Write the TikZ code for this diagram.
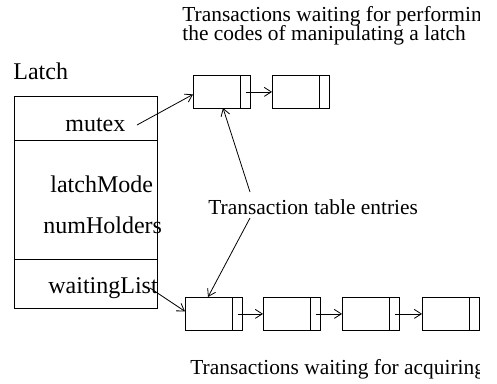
\documentclass[tikz,border=0pt]{standalone}
\usepackage{fontspec}
\setmainfont{Liberation Serif}
\usetikzlibrary{arrows.meta}
\begin{document}
\begin{tikzpicture}[x=1pt,y=-1pt,
  line width=0.8pt,
  lbl/.style={anchor=base west, inner sep=0pt, font=\fontsize{24}{26}\selectfont},
  captxt/.style={anchor=base west, inner sep=0pt, font=\fontsize{21.4}{24}\selectfont},
  field/.style={draw, anchor=north west, inner sep=0pt, minimum width=143pt},
  entry/.style={draw, anchor=north west, inner sep=0pt, minimum width=57pt, minimum height=33pt,
    path picture={\draw ([xshift=-10pt]path picture bounding box.north east) -- ([xshift=-10pt]path picture bounding box.south east);}},
  ptr/.style={-{Straight Barb[length=7pt,width=9pt]}}]
\useasboundingbox (0,0) rectangle (497,383);
% texts cut at the right edge of the original figure
\begin{scope}
\clip (0,0) rectangle (479,383);
\node[captxt] (top1) at (182,21) {Transactions waiting for performing};
\node[captxt] (top2) at (182,40) {the codes of manipulating a latch};
\node[captxt] (bottxt) at (190,374) {Transactions waiting for acquiring a latch};
\end{scope}
\node[lbl] (latch) at (13,79) {Latch};
% latch structure
\node[field, minimum height=44pt] (fmutex) at (14,96) {};
\node[field, minimum height=119pt] (fmid) at (14,140) {};
\node[field, minimum height=49pt] (fwait) at (14,259) {};
\node[lbl] (mutex) at (65,131) {mutex};
\node[lbl] (latchmode) at (50,192) {latchMode};
\node[lbl] (numholders) at (43,233) {numHolders};
\node[lbl] (waiting) at (48,293) {waitingList};
% top list
\node[entry] (a1) at (193,75) {};
\node[entry] (a2) at (272,75) {};
% bottom list
\node[entry] (b1) at (185,297) {};
\node[entry] (b2) at (263,297) {};
\node[entry] (b3) at (342,297) {};
\node[entry] (b4) at (422,297) {};
\node[captxt] (tte) at (208,214) {Transaction table entries};
% pointers
\coordinate (mstart) at (137,125);
\coordinate (wstart) at (150,288);
\coordinate (tup) at (250,192);
\coordinate (tdown) at (250,218);
\coordinate (aup) at (223,108);
\coordinate (bdown) at (208,297);
\draw[ptr] (mstart) -- ([yshift=-2.5pt]a1.west);
\draw[ptr] ([xshift=-5pt]a1.east) -- (a2.west);
\draw[ptr] (wstart) -- ([yshift=2.5pt]b1.west);
\draw[ptr] ([xshift=-5pt]b1.east) -- (b2.west);
\draw[ptr] ([xshift=-5pt]b2.east) -- (b3.west);
\draw[ptr] ([xshift=-5pt]b3.east) -- (b4.west);
\draw[ptr] (tup) -- (aup);
\draw[ptr] (tdown) -- (bdown);
\end{tikzpicture}
\end{document}
